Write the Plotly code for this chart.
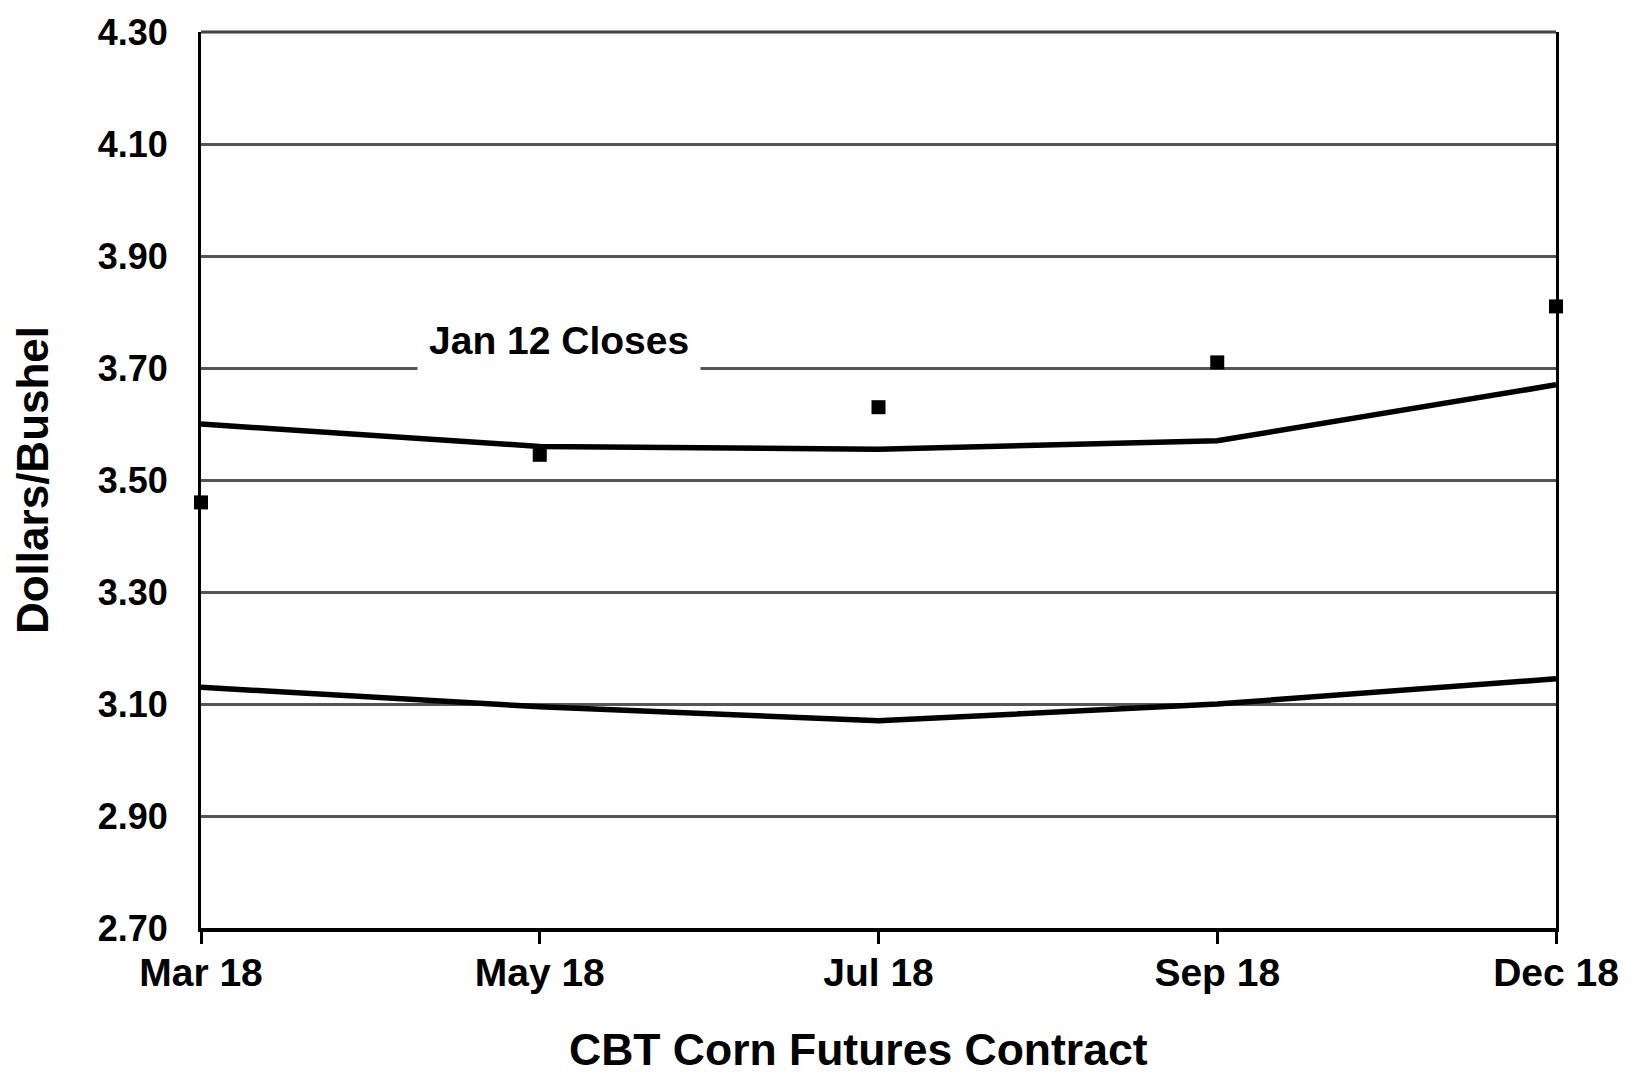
import plotly.graph_objects as go

# CBT corn futures contracts
contracts = ["Mar 18", "May 18", "Jul 18", "Sep 18", "Dec 18"]

# upper and lower bands (dollars/bushel)
upper_band = [3.60, 3.56, 3.555, 3.57, 3.67]
lower_band = [3.13, 3.095, 3.07, 3.10, 3.145]

# Jan 12 closes
jan12_closes = [3.46, 3.545, 3.63, 3.71, 3.81]

y_ticks = [2.70, 2.90, 3.10, 3.30, 3.50, 3.70, 3.90, 4.10, 4.30]
y_tick_labels = ["%.2f" % v for v in y_ticks]

FONT = "Liberation Sans, Arial, sans-serif"
xpos = list(range(len(contracts)))

fig = go.Figure()
fig.add_trace(go.Scatter(x=xpos, y=upper_band, mode="lines",
                         line=dict(color="black", width=5.5), cliponaxis=False,
                         showlegend=False))
fig.add_trace(go.Scatter(x=xpos, y=lower_band, mode="lines",
                         line=dict(color="black", width=5.5), cliponaxis=False,
                         showlegend=False))
fig.add_trace(go.Scatter(x=xpos, y=jan12_closes, mode="markers",
                         marker=dict(symbol="square", size=14, color="black"),
                         cliponaxis=False, showlegend=False))

fig.add_annotation(x=1.057, y=3.75, xref="x", yref="y", text="Jan 12 Closes",
                   showarrow=False, bgcolor="white", borderpad=11,
                   font=dict(family=FONT, size=39, color="black", weight="bold"))

# x axis title, sits a little left of the plot centre
fig.add_annotation(x=0.485, y=-0.136, xref="paper", yref="paper",
                   text="CBT Corn Futures Contract", showarrow=False,
                   xanchor="center", yanchor="middle",
                   font=dict(family=FONT, size=44.5, color="black", weight="bold"))

# top border of the plot
fig.add_shape(type="line", xref="paper", yref="paper", x0=0, x1=1, y0=1, y1=1,
              line=dict(color="#444", width=3))

# page body adds an 8px margin, so the figure is 8px smaller
fig.update_layout(
    width=1625, height=1066,
    margin=dict(l=193, r=77, t=24, b=146),
    paper_bgcolor="white", plot_bgcolor="white",
    font=dict(family=FONT, color="black", weight="bold"),
    xaxis=dict(
        range=[0, len(contracts) - 1],
        tickvals=xpos, ticktext=contracts,
        tickfont=dict(size=39, family=FONT, weight="bold"),
        ticks="outside", ticklen=12, tickwidth=3, tickcolor="black",
        ticklabelstandoff=-5,
        showgrid=False, zeroline=False,
        showline=True, linecolor="black", linewidth=4,
        automargin=False,
    ),
    yaxis=dict(
        range=[2.70, 4.30],
        tickvals=y_ticks, ticktext=y_tick_labels,
        tickfont=dict(size=36, family=FONT, weight="bold"),
        ticks="", ticklabelstandoff=23,
        showgrid=True, gridcolor="#555", gridwidth=2.5,
        zeroline=False,
        showline=True, mirror=True, linecolor="black", linewidth=3,
        automargin=False,
        title=dict(text="Dollars/Bushel", standoff=47,
                   font=dict(size=44, family=FONT, weight="bold")),
    ),
)

fig.write_html("out.html")
